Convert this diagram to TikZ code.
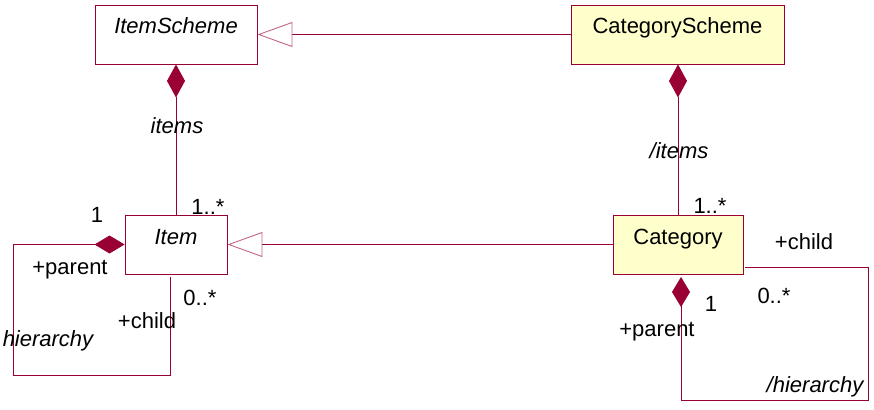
\documentclass[tikz,border=0pt]{standalone}
\usepackage{fontspec}
\setmainfont{Liberation Sans}
\usetikzlibrary{arrows.meta}
\definecolor{umlred}{RGB}{153,0,51}
\definecolor{umlfill}{RGB}{255,255,204}

\begin{document}
\begin{tikzpicture}[x=1pt, y=-1pt, line width=.9pt,
	cls/.style={draw=umlred, minimum height=59pt, text height=25pt, text depth=26pt, inner ysep=4pt, inner xsep=0pt},
	lbl/.style={anchor=base, inner sep=0pt},
	comp/.style={draw=umlred, {Diamond[length=33pt, width=18pt, umlred]}-},
	compl/.style={draw=umlred, {Diamond[length=30pt, width=18pt, umlred]}-},
	gen/.style={draw=umlred, -{Triangle[open, length=35pt, width=25pt, color=umlred!60, line width=.9pt]}}]
	\useasboundingbox (0,0) rectangle (874,409);
	\fontsize{22}{26}\selectfont
	
	\node [cls, minimum width=162pt] (itemscheme) at (176,34.5) {\itshape ItemScheme};
	\node [cls, fill=umlfill, minimum width=213pt] (catscheme) at (677.5,34.5) {CategoryScheme};
	\node [cls, minimum width=102pt] (item) at (176,244.5) {\itshape Item};
	\node [cls, fill=umlfill, minimum width=130pt] (category) at (678,244.5) {Category};
	
	\draw [gen] (catscheme.west) -- (itemscheme.east);
	\draw [gen] (category.west) -- (item.east);
	
	\draw [comp] (itemscheme.south) -- (item.north);
	\node [lbl] (items) at (177,133) {\itshape items};
	\node [lbl] (itemsmult) at (208,214) {1..*};
	
	\draw [comp] (category.north |- catscheme.south) -- (category.north);
	\node [lbl] (catitems) at (679,158) {\itshape /items};
	\node [lbl] (catitemsmult) at (710,213) {1..*};
	
	\coordinate (ichild) at (170,277);
	\draw [compl] (item.west) -| (13,375) -| (ichild);
	\node [lbl] (iparentmult) at (97,222) {1};
	\node [lbl] (iparent) at (70,274) {+parent};
	\node [lbl] (ichildmult) at (200,305) {0..*};
	\node [lbl] (ichildlbl) at (147,328) {+child};
	\node [lbl] (ihier) at (48,346) {\itshape hierarchy};
	
	\coordinate (cparent) at (681,277);
	\coordinate (cchild) at (745,267);
	\draw [compl] (cparent) |- (868,400) |- (cchild);
	\node [lbl] (cchildlbl) at (804,249) {+child};
	\node [lbl] (cchildmult) at (774,303) {0..*};
	\node [lbl] (cparentmult) at (711,311) {1};
	\node [lbl] (cparentlbl) at (657,336) {+parent};
	\node [lbl] (chier) at (815,392) {\itshape /hierarchy};
\end{tikzpicture}
\end{document}
